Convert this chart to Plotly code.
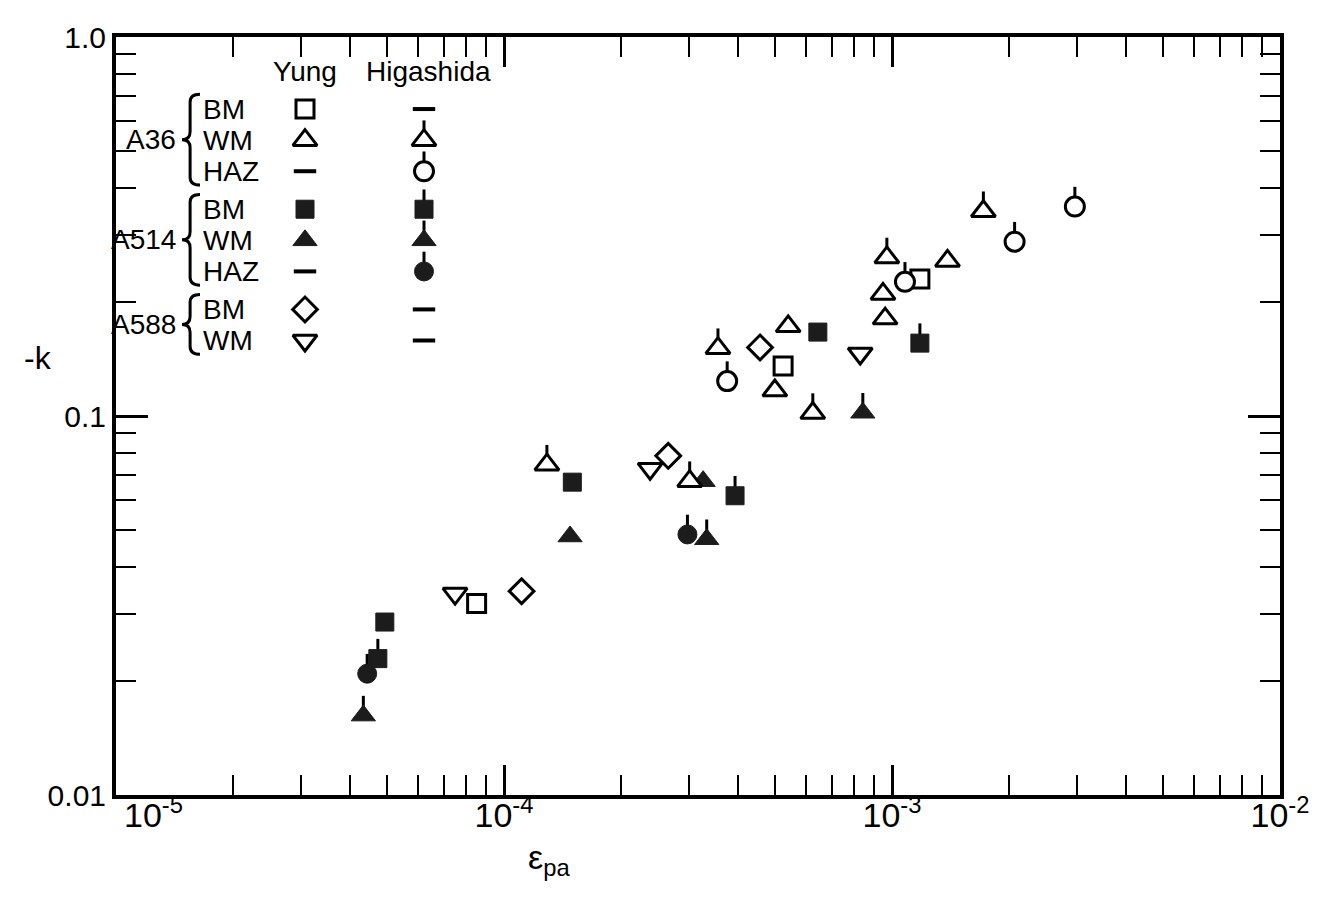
import plotly.graph_objects as go

# ---------------- data ----------------
# Yung data
yung_A36_BM_x = [8.5e-5, 5.24e-4, 1.18e-3]
yung_A36_BM_y = [0.032, 0.1355, 0.230]
yung_A36_WM_x = [4.99e-4, 5.4e-4, 9.48e-4, 9.6e-4, 1.39e-3]
yung_A36_WM_y = [0.1167, 0.1724, 0.210, 0.1807, 0.2566]
yung_A514_BM_x = [4.93e-5, 1.50e-4, 6.44e-4]
yung_A514_BM_y = [0.0286, 0.0669, 0.1665]
yung_A514_WM_x = [1.48e-4, 3.26e-4]
yung_A514_WM_y = [0.0481, 0.0673]
yung_A588_BM_x = [1.11e-4, 2.65e-4, 4.57e-4]
yung_A588_BM_y = [0.0345, 0.0785, 0.1517]
yung_A588_WM_x = [7.48e-5, 2.38e-4, 8.28e-4]
yung_A588_WM_y = [0.034, 0.0726, 0.1462]

# Higashida data
higa_A36_WM_x = [1.29e-4, 3.01e-4, 3.56e-4, 6.25e-4, 9.7e-4, 1.72e-3]
higa_A36_WM_y = [0.0744, 0.0673, 0.151, 0.1018, 0.262, 0.347]
higa_A36_HAZ_x = [3.76e-4, 1.08e-3, 2.07e-3, 2.96e-3]
higa_A36_HAZ_y = [0.1236, 0.226, 0.2884, 0.357]
higa_A514_BM_x = [4.73e-5, 3.94e-4, 1.18e-3]
higa_A514_BM_y = [0.0229, 0.0616, 0.1557]
higa_A514_WM_x = [4.34e-5, 3.33e-4, 8.41e-4]
higa_A514_WM_y = [0.0162, 0.0473, 0.102]
higa_A514_HAZ_x = [4.44e-5, 2.97e-4]
higa_A514_HAZ_y = [0.0209, 0.0487]

x_tickvals = [1e-5, 1e-4, 1e-3, 1e-2]
x_ticktext = ["10<sup>-5</sup>", "10<sup>-4</sup>", "10<sup>-3</sup>", "10<sup>-2</sup>"]
y_tickvals = [0.01, 0.1, 1.0]
y_ticktext = ["0.01", "0.1", "1.0"]

legend_groups = ["A36", "A514", "A588"]
legend_rows = [("A36", "BM"), ("A36", "WM"), ("A36", "HAZ"),
               ("A514", "BM"), ("A514", "WM"), ("A514", "HAZ"),
               ("A588", "BM"), ("A588", "WM")]

# ---------------- styles ----------------
FONT = "Liberation Sans"
DARK = "#1c1c1c"
style = {
    ("A36", "BM"): dict(symbol="square", fill="white", size=18),
    ("A36", "WM"): dict(symbol="triangle-up", fill="white", size=21),
    ("A36", "HAZ"): dict(symbol="circle", fill="white", size=19),
    ("A514", "BM"): dict(symbol="square", fill=DARK, size=18),
    ("A514", "WM"): dict(symbol="triangle-up", fill=DARK, size=21),
    ("A514", "HAZ"): dict(symbol="circle", fill=DARK, size=19),
    ("A588", "BM"): dict(symbol="diamond", fill="white", size=19),
    ("A588", "WM"): dict(symbol="triangle-down", fill="white", size=21),
}
yung = {
    ("A36", "BM"): (yung_A36_BM_x, yung_A36_BM_y),
    ("A36", "WM"): (yung_A36_WM_x, yung_A36_WM_y),
    ("A514", "BM"): (yung_A514_BM_x, yung_A514_BM_y),
    ("A514", "WM"): (yung_A514_WM_x, yung_A514_WM_y),
    ("A588", "BM"): (yung_A588_BM_x, yung_A588_BM_y),
    ("A588", "WM"): (yung_A588_WM_x, yung_A588_WM_y),
}
higa = {
    ("A36", "WM"): (higa_A36_WM_x, higa_A36_WM_y),
    ("A36", "HAZ"): (higa_A36_HAZ_x, higa_A36_HAZ_y),
    ("A514", "BM"): (higa_A514_BM_x, higa_A514_BM_y),
    ("A514", "WM"): (higa_A514_WM_x, higa_A514_WM_y),
    ("A514", "HAZ"): (higa_A514_HAZ_x, higa_A514_HAZ_y),
}

# page geometry: the html body has an 8px margin, so the figure starts at (8, 8)
OFF = 8
W, H = 1324, 888
# plot area in screen pixels
L, R, T, B = 116, 1280, 27, 795
TICK_FACTOR = 10 ** (20 / 384) - 1  # upward stem ~20px on log axis


def marker_for(key):
    s = style[key]
    return dict(symbol=s["symbol"], size=s["size"], color=s["fill"],
                line=dict(color="black" if s["fill"] == "white" else DARK,
                          width=3 if s["fill"] == "white" else 1))


fig = go.Figure()

# Yung (no stem)
for key, (xs, ys) in yung.items():
    fig.add_trace(go.Scatter(x=xs, y=ys, mode="markers", marker=marker_for(key),
                             hoverinfo="x+y", name=f"Yung {key[0]} {key[1]}"))

# Higashida (with stem)
for key, (xs, ys) in higa.items():
    fig.add_trace(go.Scatter(
        x=xs, y=ys, mode="markers", marker=marker_for(key),
        error_y=dict(type="data", symmetric=False,
                     array=[v * TICK_FACTOR for v in ys],
                     arrayminus=[0] * len(ys),
                     width=0, thickness=3, color="black"),
        hoverinfo="x+y", name=f"Higashida {key[0]} {key[1]}"))

# ---------------- legend table (pixel overlay axes, screen pixels) ----------------
col_yung, col_higa = 305, 424
row_y0, row_dy = 100, 31.5
group_gap = 7
row_pos = []
y = row_y0
for i, (g, lab) in enumerate(legend_rows):
    if i > 0:
        y += row_dy + (group_gap if g != legend_rows[i - 1][0] else 0)
    row_pos.append(y)

annotations = []
shapes = []
TXT = 28


def ann(x, y, text, xanchor="center", size=TXT):
    annotations.append(dict(x=x, y=y, xref="x2", yref="y2", text=text, showarrow=False,
                            xanchor=xanchor, yanchor="middle",
                            font=dict(family=FONT, size=size, color="black")))


def ann_px(px, py, text, size, xanchor="center"):
    # screen pixel -> paper fraction (paper spans the plot area)
    annotations.append(dict(x=(px - L) / (R - L), y=(B - py) / (B - T),
                            xref="paper", yref="paper", text=text, showarrow=False,
                            xanchor=xanchor, yanchor="middle",
                            font=dict(family=FONT, size=size, color="black")))


ann(col_yung, 62, "Yung")
ann(col_higa + 4, 62, "Higashida")

for (g, lab), yy in zip(legend_rows, row_pos):
    ann(201, yy, lab, xanchor="left")
    key = (g, lab)
    for col, dset, stem in ((col_yung, yung, False), (col_higa, higa, True)):
        if key in dset:
            tr = dict(x=[col], y=[yy], mode="markers", marker=marker_for(key),
                      xaxis="x2", yaxis="y2", hoverinfo="skip")
            if stem:
                tr["error_y"] = dict(type="data", symmetric=False, array=[0],
                                     arrayminus=[20], width=0, thickness=3, color="black")
            fig.add_trace(go.Scatter(**tr))
        else:
            fig.add_trace(go.Scatter(x=[col], y=[yy], mode="markers",
                                     marker=dict(symbol="line-ew", size=16,
                                                 line=dict(color="black", width=4)),
                                     xaxis="x2", yaxis="y2", hoverinfo="skip"))


def brace_path(xr, yt, yb, ytip, depth=18):
    xm = xr - depth * 0.55
    xt = xr - depth
    c = 8
    return (f"M {xr},{yt} Q {xm},{yt} {xm},{yt + c} L {xm},{ytip - c} "
            f"Q {xm},{ytip} {xt},{ytip} Q {xm},{ytip} {xm},{ytip + c} "
            f"L {xm},{yb - c} Q {xm},{yb} {xr},{yb}")


for g in legend_groups:
    ys = [yy for (gg, _), yy in zip(legend_rows, row_pos) if gg == g]
    yt, yb = ys[0] - 15, ys[-1] + 14
    ytip = (yt + yb) / 2
    shapes.append(dict(type="path", path=brace_path(200, yt, yb, ytip),
                       xref="x2", yref="y2", line=dict(color="black", width=3)))
    ann(178, ytip, g, xanchor="right")

# axis titles
ann_px(38, 352, "-k", 32)
ann_px(549, 860, "ε<sub>pa</sub>", 34)
# first x tick label sits to the right of its tick in the reference
ann_px(153, 813, x_ticktext[0], 34)

x_minor = [k * 10 ** e for e in (-5, -4, -3) for k in range(2, 10)]
y_minor = [k * 10 ** e for e in (-2, -1) for k in range(2, 10)]

fig.update_layout(
    width=W, height=H,
    margin=dict(l=L - OFF, r=W - (R - OFF), t=T - OFF, b=H - (B - OFF), pad=0),
    plot_bgcolor="white", paper_bgcolor="white",
    showlegend=False,
    font=dict(family=FONT, color="black"),
    xaxis=dict(type="log", range=[-5, -2], tickmode="array", tickvals=x_tickvals,
               ticktext=[""] + x_ticktext[1:], ticks="inside", ticklen=30, tickwidth=2.5,
               tickcolor="black", showline=True, linewidth=4, linecolor="black",
               mirror="ticks", showgrid=False, zeroline=False,
               ticklabelstandoff=-13,
               tickfont=dict(family=FONT, size=34, color="black"),
               minor=dict(tickmode="array", tickvals=x_minor, ticks="inside",
                          ticklen=20, tickwidth=2, tickcolor="black", showgrid=False)),
    yaxis=dict(type="log", range=[-2, 0], tickmode="array", tickvals=y_tickvals,
               ticktext=y_ticktext, ticks="inside", ticklen=32, tickwidth=2.5,
               tickcolor="black", showline=True, linewidth=4, linecolor="black",
               mirror="ticks", showgrid=False, zeroline=False,
               tickfont=dict(family=FONT, size=30, color="black"),
               minor=dict(tickmode="array", tickvals=y_minor, ticks="inside",
                          ticklen=20, tickwidth=2, tickcolor="black", showgrid=False)),
    xaxis2=dict(overlaying="x", anchor="y2", range=[L, R], visible=False,
                showgrid=False, zeroline=False),
    yaxis2=dict(overlaying="y", anchor="x2", range=[B, T], visible=False,
                showgrid=False, zeroline=False),
    annotations=annotations,
    shapes=shapes,
)

fig.write_html("out.html")
